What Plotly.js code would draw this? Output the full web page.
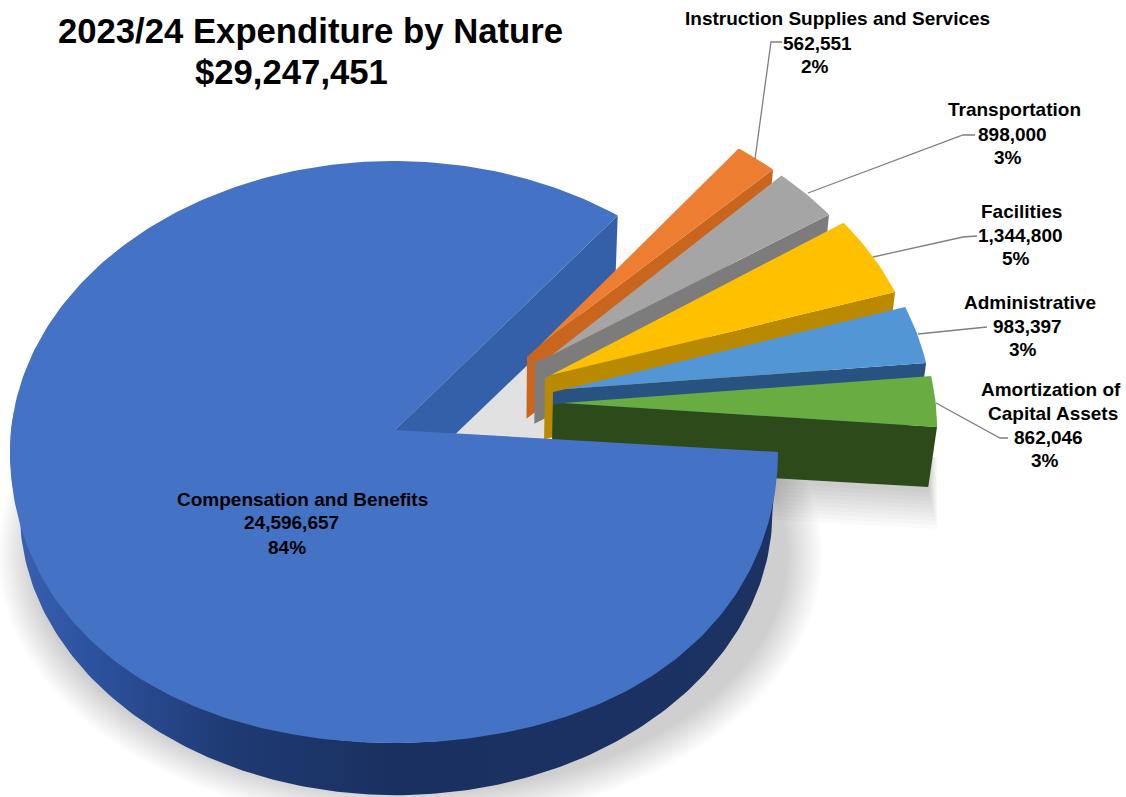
<!DOCTYPE html>
<html>
<head>
<meta charset="utf-8">
<title>2023/24 Expenditure by Nature</title>
<script src="https://cdn.plot.ly/plotly-3.0.1.min.js"></script>
<style>html,body{margin:0;padding:0;background:#fff}#chart{width:1126px;height:797px}</style>
</head>
<body>
<div id="chart"></div>
<script>
// Expenditure by nature, clockwise from the largest category.
const categories = ['Compensation and Benefits', 'Instruction Supplies and Services', 'Transportation', 'Facilities', 'Administrative', 'Amortization of Capital Assets'];
const amounts = [24596657, 562551, 898000, 1344800, 983397, 862046];
const totalLabel = '$29,247,451';
const topColors = ['#4472C4', '#ED7D31', '#A5A5A5', '#FFC000', '#5296D6', '#68AC42'];
const wallColors = ['#3360A8', '#C9651C', '#7C7C7C', '#B98A00', '#28527F', '#2D4A1A'];

// Tilted-disc projection: ellipse of the rim, the hub, and the drop of the lower face.
const RIM = {cx: 394, cy: 452, rx: 384, ry: 291};
const HUB = {x: 395, y: 430};
const VIEW_ANGLE_SCALE = 0.9497;   // the tilt compresses angles behind the hub
const explodeRim = [[0, 0], [121, -67], [129.5, -61], [144, -53], [154, -38], [159, -25]];
const explodeHub = [[0, 0], [132, -73], [140, -68], [150, -52], [158, -38], [158, -25]];
const explodeTip = [[0, 0], [145, -85], [157, -75], [156, -55], [171, -41], [168, -27]];

const total = amounts.reduce((a, b) => a + b, 0);
const rad = d => d * Math.PI / 180;
const rim = (deg, off) => [RIM.cx + RIM.rx * Math.cos(rad(deg)) + off[0], RIM.cy - RIM.ry * Math.sin(rad(deg)) + off[1]];
// The near side of the top face swells slightly under perspective.
const rimNear = deg => {
  const s = Math.sin(rad(deg));
  const k = s < 0 ? 1 + 0.022 * Math.pow(Math.sin(rad(2 * deg)), 2) : 1;
  return [RIM.cx + RIM.rx * k * Math.cos(rad(deg)), RIM.cy - RIM.ry * k * s];
};
const lower = p => [p[0] - (p[0] - 500) * 0.02, p[1] + 60 - (p[1] - 430) * 0.025];
const steps = (from, to, fn) => {
  const pts = [], n = Math.max(2, Math.ceil(Math.abs(to - from)));
  for (let i = 0; i <= n; i++) pts.push(fn(from + (to - from) * i / n));
  return pts;
};

const traces = [];
function poly(pts, color, extra) {
  traces.push(Object.assign({
    type: 'scatter', mode: 'lines', hoverinfo: 'skip', showlegend: false,
    x: pts.map(p => p[0]).concat([pts[0][0]]), y: pts.map(p => p[1]).concat([pts[0][1]]),
    fill: 'toself', fillcolor: color, line: {width: 0, color: color}
  }, extra || {}));
}

// Angles run counter-clockwise from the right; the small slices stack upward from 0 degrees.
const sweep = amounts.map(v => v / total * 360);
const bounds = [0];
for (let i = amounts.length - 1; i >= 1; i--) bounds.unshift(bounds[0] + sweep[i]);
const upperEdge = i => bounds[i - 1] * VIEW_ANGLE_SCALE;
const lowerEdge = i => bounds[i] * VIEW_ANGLE_SCALE;
const backCut = bounds[0] * VIEW_ANGLE_SCALE;
const hub = [HUB.x, HUB.y];

// Soft floor shadow under the disc: nested ellipses build up the blur
for (let i = 0; i < 16; i++) {
  const t = i / 15;
  const rx = 412 - 34 * t, ry = 270 - 32 * t;
  const pts = [];
  for (let d = 0; d < 360; d += 2) pts.push([410 + rx * Math.cos(rad(d)), 555 + ry * Math.sin(rad(d))]);
  poly(pts, 'rgba(0,0,0,0.0118)');
}
// Lighter shadow in the gap between the pulled slices and the disc
const sector = r => [hub].concat(steps(0, backCut, d => {
  const p = rim(d, [0, 0]);
  return [HUB.x + (p[0] - HUB.x) * r, HUB.y + (p[1] - HUB.y) * r];
}));
poly(sector(1), '#ffffff');
for (let i = 0; i < 6; i++) poly(sector(0.92 - i * 0.09), 'rgba(0,0,0,0.019)');
// Soft shadow thrown by the lowest slice
{
  const last = amounts.length - 1;
  const a = lower([HUB.x + explodeHub[last][0], HUB.y + explodeHub[last][1]]);
  const b = lower(rim(0, explodeRim[last]));
  for (let i = 0; i < 10; i++) {
    const g = 42 - i * 4;
    poly([a, [a[0], a[1] + g], [b[0] + g * 0.22, b[1] + g], [b[0] + g * 0.22, b[1] - 30]], 'rgba(0,0,0,0.019)');
  }
}

// Cut face of the big slice at the back
const backEdge = rim(backCut, [0, 0]);
poly([hub, backEdge, lower(backEdge), lower(hub)], wallColors[0]);

// Pulled slices, back to front: cut wall first, then the top face
for (let i = 1; i < amounts.length; i++) {
  const a = [HUB.x + explodeHub[i][0], HUB.y + explodeHub[i][1]];
  const tip = [HUB.x + explodeTip[i][0], HUB.y + explodeTip[i][1]];
  const r2 = rim(lowerEdge(i), explodeRim[i]);
  poly([a, tip, r2, lower(r2), lower(a)], wallColors[i]);
  poly([tip].concat(steps(upperEdge(i), lowerEdge(i), d => rim(d, explodeRim[i]))), topColors[i]);
}

// Front wall of the disc, darkening toward the viewer
const wallUpper = steps(172, 360, d => rim(d, [0, 0]));
poly(wallUpper.concat(wallUpper.map(lower).reverse()), wallColors[0], {
  fillgradient: {type: 'horizontal', start: 10, stop: 780, colorscale: [
    [0, '#3A62B0'], [0.1, '#2D53A0'], [0.28, '#1F3B74'], [0.5, '#1A3060'], [1, '#1B3262']
  ]}
});

// Top face of the big slice
poly([hub].concat(steps(backCut, 360, rimNear)), topColors[0]);

// Text
const fmt = n => n.toLocaleString('en-US');
const pct = v => Math.round(v / total * 100) + '%';
const lab = (text, x, y, size) => ({
  text: text, x: x, y: y, xref: 'x', yref: 'y', showarrow: false, xanchor: 'center', yanchor: 'middle',
  font: {family: 'Liberation Sans, Arial, sans-serif', size: size || 19, color: '#000'}
});
const bold = s => '<b>' + s + '</b>';
const annotations = [
  lab(bold(totalLabel), 291, 72, 34.7),
  lab(bold(categories[0]), 302, 499), lab(bold(fmt(amounts[0])), 291, 522), lab(bold(pct(amounts[0])), 287, 547),
  lab(bold(categories[1]), 837, 18), lab(bold(fmt(amounts[1])), 817, 43), lab(bold(pct(amounts[1])), 815, 66),
  lab(bold(categories[2]), 1014.5, 109), lab(bold(fmt(amounts[2])), 1012, 134), lab(bold(pct(amounts[2])), 1008, 157),
  lab(bold(categories[3]), 1021, 211), lab(bold(fmt(amounts[3])), 1020.5, 235), lab(bold(pct(amounts[3])), 1016, 258),
  lab(bold(categories[4]), 1029.5, 302), lab(bold(fmt(amounts[4])), 1027, 326), lab(bold(pct(amounts[4])), 1023, 349),
  lab(bold('Amortization of'), 1051, 389), lab(bold('Capital Assets'), 1053, 413), lab(bold(fmt(amounts[5])), 1048, 437), lab(bold(pct(amounts[5])), 1044.5, 460)
];

// Leader lines from the outer slices to their labels
const leader = path => ({type: 'path', path: path, xref: 'x', yref: 'y', layer: 'above', line: {color: '#7F7F7F', width: 1.3}});
const shapes = [
  leader('M755,159 L771,42 L782,42'),
  leader('M808,193 L963,135 L975,135'),
  leader('M873,257 L963,237 L977,236'),
  leader('M918,334 L987,327'),
  leader('M936,403 L1000,438 L1008,438')
];

Plotly.newPlot('chart', traces, {
  width: 1126, height: 797, margin: {l: 0, r: 0, t: 0, b: 0},
  paper_bgcolor: '#fff', plot_bgcolor: '#fff', showlegend: false,
  title: {text: bold('2023/24 Expenditure by Nature'), x: 310.5 / 1126, y: 1 - 31 / 797, xref: 'paper', yref: 'paper', xanchor: 'center', yanchor: 'middle',
    font: {family: 'Liberation Sans, Arial, sans-serif', size: 34.7, color: '#000'}},
  xaxis: {range: [0, 1126], visible: false, fixedrange: true},
  yaxis: {range: [797, 0], visible: false, fixedrange: true},
  annotations: annotations, shapes: shapes
}, {displayModeBar: false, staticPlot: true});
</script>
</body>
</html>
